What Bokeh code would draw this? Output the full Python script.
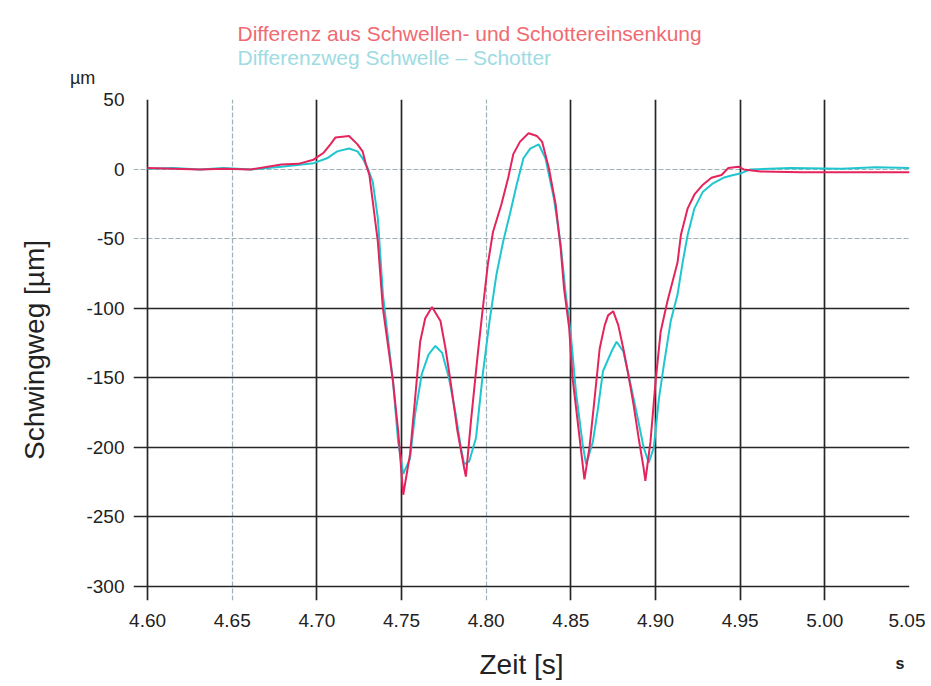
from bokeh.plotting import figure
from bokeh.models import FixedTicker, Grid, NumeralTickFormatter, Title
from bokeh.embed import file_html
from bokeh.resources import INLINE

# ---- data ----
t_red = [4.600, 4.615, 4.631, 4.645, 4.661, 4.679, 4.689, 4.698, 4.704, 4.708, 4.711, 4.719, 4.724,
         4.727, 4.729, 4.731, 4.733, 4.736, 4.739, 4.745, 4.748, 4.751, 4.755, 4.758, 4.761, 4.764,
         4.768, 4.773, 4.776, 4.779, 4.783, 4.787, 4.788, 4.791, 4.795, 4.798, 4.801, 4.804, 4.809,
         4.813, 4.816, 4.820, 4.825, 4.830, 4.833, 4.837, 4.841, 4.844, 4.846, 4.849, 4.851, 4.854,
         4.858, 4.861, 4.864, 4.867, 4.870, 4.872, 4.875, 4.878, 4.881, 4.884, 4.887, 4.890, 4.893,
         4.894, 4.897, 4.900, 4.903, 4.907, 4.910, 4.913, 4.915, 4.919, 4.923, 4.928, 4.933, 4.939,
         4.943, 4.949, 4.952, 4.962, 4.986, 5.015, 5.050]
v_red = [1, 0.5, 0, 0.5, 0, 3.5, 4, 7, 12, 18, 23, 24, 18,
         13, 3.5, -4, -23, -52, -100, -153, -188, -234, -205, -165, -124, -107,
         -99, -109, -129, -153, -188, -215, -221, -181, -133, -100, -68, -45, -25,
         -6, 11, 20, 26, 24, 20, 1, -25, -57, -86, -114, -150, -181,
         -223, -200, -165, -129, -112, -105, -102, -112, -129, -148, -169, -193, -215,
         -224, -196, -153, -117, -95, -81, -67, -47, -28, -18, -11, -6, -4,
         1, 2, 0, -1.5, -2, -2, -2]

t_cyan = [4.600, 4.615, 4.631, 4.645, 4.661, 4.679, 4.698, 4.706, 4.712, 4.719, 4.724, 4.727, 4.730,
          4.733, 4.736, 4.739, 4.745, 4.748, 4.751, 4.755, 4.758, 4.762, 4.766, 4.770, 4.774, 4.778,
          4.782, 4.785, 4.787, 4.790, 4.794, 4.798, 4.802, 4.806, 4.810, 4.814, 4.818, 4.822, 4.826,
          4.831, 4.835, 4.840, 4.844, 4.847, 4.850, 4.853, 4.857, 4.859, 4.863, 4.866, 4.869, 4.874,
          4.877, 4.881, 4.885, 4.889, 4.893, 4.896, 4.899, 4.902, 4.905, 4.909, 4.913, 4.916, 4.919,
          4.923, 4.928, 4.934, 4.940, 4.946, 4.950, 4.956, 4.980, 5.010, 5.030, 5.050]
v_cyan = [0.5, 1, 0, 1, 0, 2, 4.5, 8, 13, 15, 13, 8, 1,
          -9, -35, -90, -153, -196, -219, -208, -176, -147, -133, -127, -132, -150,
          -176, -200, -212, -210, -193, -147, -109, -76, -52, -32, -11, 8, 15,
          18, 8, -21, -54, -90, -119, -160, -198, -212, -196, -172, -145, -131,
          -124, -131, -153, -176, -200, -211, -200, -165, -140, -109, -90, -67, -47,
          -28, -16, -10, -6, -4, -3, 0, 1, 0.5, 1.5, 1]

x_ticks = [4.60, 4.65, 4.70, 4.75, 4.80, 4.85, 4.90, 4.95, 5.00, 5.05]
y_ticks = [-300, -250, -200, -150, -100, -50, 0, 50]
x_grid_dark = [4.60, 4.70, 4.75, 4.85, 4.90, 4.95, 5.00]
x_grid_mid = [5.05]
x_grid_light = [4.65, 4.80]
y_grid_dark = [-300, -250, -200, -150, -100]
y_grid_light = [-50, 0]

name_red = "Differenz aus Schwellen- und Schottereinsenkung"
name_cyan = "Differenzweg Schwelle \u2013 Schotter"

RED = "#e4245c"
CYAN = "#1fc6cf"
FONT = "Liberation Sans"

p = figure(width=925, height=686,
           x_range=(4.5917, 5.05), y_range=(-310.1, 50.3),
           output_backend="svg", toolbar_location=None,
           min_border_left=133, min_border_right=16,
           min_border_top=99, min_border_bottom=86)
p.outline_line_color = None
p.background_fill_color = "white"
p.border_fill_color = "white"
p.xgrid.visible = False
p.ygrid.visible = False

def add_grid(dim, ticks, color, width, dash="solid", alpha=1.0):
    g = Grid(dimension=dim, ticker=FixedTicker(ticks=ticks),
             grid_line_color=color, grid_line_width=width,
             grid_line_dash=dash, grid_line_alpha=alpha)
    p.add_layout(g)

add_grid(1, y_grid_light, "#9db1b6", 1.2, "5 2")
add_grid(0, x_grid_light, "#9db1b6", 1.2, "5 2")
add_grid(0, x_grid_mid, "#555555", 1.4)
add_grid(1, y_grid_dark, "#262626", 1.7)
add_grid(0, x_grid_dark, "#262626", 1.7)

for ax in (p.xaxis[0], p.yaxis[0]):
    ax.axis_line_color = None
    ax.major_tick_line_color = None
    ax.minor_tick_line_color = None
    ax.major_tick_out = 0
    ax.major_tick_in = 0
    ax.major_label_text_font = FONT
    ax.major_label_text_font_size = "19px"
    ax.major_label_text_color = "#222222"
    ax.axis_label_text_font = FONT
    ax.axis_label_text_font_size = "28px"
    ax.axis_label_text_font_style = "normal"
    ax.axis_label_text_color = "#222222"

p.xaxis.ticker = FixedTicker(ticks=x_ticks)
p.xaxis.formatter = NumeralTickFormatter(format="0.00")
p.xaxis.major_label_standoff = 13
p.xaxis.axis_label = "Zeit [s]"
p.xaxis.axis_label_standoff = 19

p.yaxis.ticker = FixedTicker(ticks=y_ticks)
p.yaxis.formatter = NumeralTickFormatter(format="0")
p.yaxis.major_label_standoff = 9
p.yaxis.axis_label = "Schwingweg [\u00b5m]"
p.yaxis.axis_label_standoff = 33

p.line(t_cyan, v_cyan, line_color=CYAN, line_width=2)
p.line(t_red, v_red, line_color=RED, line_width=2)

# header texts (closest to the frame first)
p.add_layout(Title(text="\u00b5m", align="left", offset=-63.5, standoff=23,
                   text_font=FONT, text_font_size="18px", text_font_style="normal",
                   text_color="#222222"), "above")
p.add_layout(Title(text=name_cyan, align="left", offset=104, standoff=-29.4,
                   text_font=FONT, text_font_size="21px", text_font_style="normal",
                   text_color="#9edbe2"), "above")
p.add_layout(Title(text=name_red, align="left", offset=104, standoff=19.4,
                   text_font=FONT, text_font_size="21px", text_font_style="normal",
                   text_color="#f06a72"), "above")

# unit at the end of the time axis
p.add_layout(Title(text="s", align="right", offset=5, standoff=-56, vertical_align="top",
                   text_font=FONT, text_font_size="16px", text_font_style="bold",
                   text_color="#222222"), "below")

open("out.html", "w").write(file_html(p, INLINE))
